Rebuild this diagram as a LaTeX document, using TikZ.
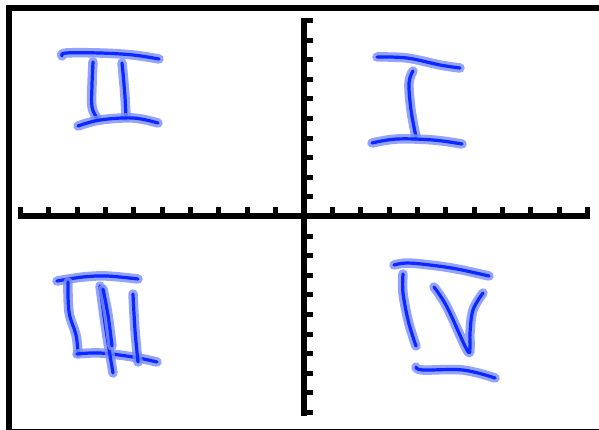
\documentclass[tikz,border=0pt]{standalone}
\usepackage{tikz}

\definecolor{inkcore}{RGB}{10,40,255}
\definecolor{inkhalo}{RGB}{120,140,255}

\tikzset{
    frame/.style={line width=6pt},
    axis/.style={line width=6pt},
    tick/.style={line width=5pt},
    halo/.style={inkhalo, line width=9.5pt, line cap=round, line join=round, opacity=0.8},
    core/.style={inkcore, line width=3.2pt, line cap=round, line join=round}
}

\newcommand{\penstroke}[1]{%
    \draw[halo] plot[smooth, tension=0.6] coordinates {#1};
    \draw[core] plot[smooth, tension=0.6] coordinates {#1};
}

\begin{document}
\begin{tikzpicture}[x=1pt, y=-1pt]
    \useasboundingbox (0,0) rectangle (599,430);
    \clip (0,0) rectangle (599,430);
    \draw[frame] (9,8) rectangle (610,432);

    \coordinate (xl) at (18,216.3);
    \coordinate (xr) at (590,216.3);
    \coordinate (yt) at (304,18);
    \coordinate (yb) at (304,415.7);
    \draw[axis] (xl) -- (xr);
    \draw[axis] (yt) -- (yb);

    \foreach \i in {0,...,20}
        \draw[tick] (20.5+28.35*\i,216) -- (20.5+28.35*\i,207);
    \foreach \i in {0,...,20}
        \draw[tick] (304,20.5+19.6*\i) -- (313,20.5+19.6*\i);

    % II
    \penstroke{(62,56) (66,53) (100,53) (133,55) (159,59)}
    \penstroke{(93,62) (92,85) (92,107) (97,118)}
    \penstroke{(122,63) (123,73) (125,97) (126,117)}
    \penstroke{(78,126) (100,120) (133,118) (158,123)}

    % I
    \penstroke{(377,57) (407,58) (440,65) (460,68)}
    \penstroke{(413,71) (409,83) (411,110) (416,137)}
    \penstroke{(372,143) (397,139) (433,140) (462,144)}

    % III
    \penstroke{(57,281) (83,277) (107,276) (138,279)}
    \penstroke{(68,282) (69,312) (76,335) (78,353)}
    \penstroke{(77,354) (100,353) (133,357) (157,362)}
    \penstroke{(100,286) (106,330) (113,373)}
    \penstroke{(103,289) (108,315) (112,346)}
    \penstroke{(133,294) (135,330) (138,362)}

    % IV
    \penstroke{(394,265) (407,263) (430,265) (457,269) (489,276)}
    \penstroke{(403,274) (403,293) (408,320) (413,337) (416,346)}
    \penstroke{(434,287) (447,307) (467,350) (470,347) (470,333) (473,310) (483,293)}
    \penstroke{(416,367) (423,370) (463,370) (495,378)}
\end{tikzpicture}
\end{document}
